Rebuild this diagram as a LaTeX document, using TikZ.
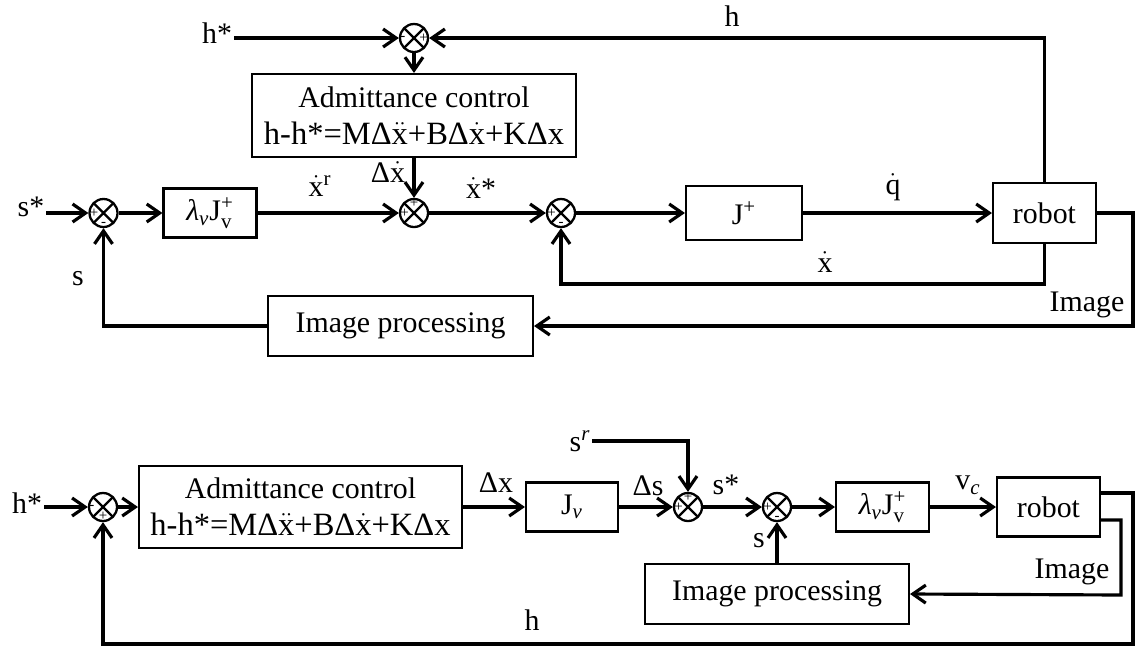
\documentclass[tikz,border=0pt]{standalone}
\usepackage{amsmath}
\usepackage{fontspec}
\setmainfont{Liberation Serif}
\usetikzlibrary{arrows.meta}
\newcommand{\dx}{$\dot{\text{x}}$}
\newcommand{\ddx}{$\ddot{\text{x}}$}
\newcommand{\lamJ}{{\itshape λ}$_{\text{\itshape v}}$J$^{\text{+}}_{\text{v}}$}
\newcommand{\admlaw}{{\fontsize{18.5}{21}\selectfont h-h*=MΔ\ddx+BΔ\dx+KΔx}}

\begin{document}
\begin{tikzpicture}[x=0.02cm,y=-0.02cm,font=\fontsize{17}{21}\selectfont,
  blk/.style={draw,line width=1.2pt,inner sep=1pt,align=center},
  sumjn/.style={circle,draw,line width=1.3pt,minimum size=0.56cm,inner sep=0pt,
    path picture={\draw[line width=1.3pt]
      (path picture bounding box.north west) -- (path picture bounding box.south east)
      (path picture bounding box.north east) -- (path picture bounding box.south west);}},
  sgn/.style={font=\fontsize{8.5}{8.5}\selectfont,inner sep=0.6pt},
  ln/.style={line width=1.8pt},
  arr/.style={ln,-{Straight Barb[length=2.6mm,width=3.6mm]}},
  lbl/.style={inner sep=1pt}]
\useasboundingbox (0,0) rectangle (1137,650);

% upper scheme
\node[sumjn] (sumT) at (414,38) {};
\node[sgn,right] at (sumT.west) {-};
\node[sgn,left] at (sumT.east) {+};
\node[lbl] (hstarT) at (217,33) {h*};
\node[blk,minimum width=6.48cm,minimum height=1.66cm] (admT) at (414,115.5)
  {Admittance control\\\admlaw};

\node[lbl] (sstarT) at (31,207) {s*};
\node[sumjn] (sum1) at (103.5,213) {};
\node[sgn,right] at (sum1.west) {+};
\node[sgn,above] at (sum1.south) {-};
\node[blk,minimum width=1.86cm,minimum height=0.98cm] (lamT) at (210,213) {\lamJ};
\node[sumjn] (sum2) at (414,213) {};
\node[sgn,right] at (sum2.west) {+};
\node[sgn,below] at (sum2.north) {+};
\node[sumjn] (sum3) at (561,213) {};
\node[sgn,right] at (sum3.west) {+};
\node[sgn,above] at (sum3.south) {-};
\node[blk,minimum width=2.32cm,minimum height=1.08cm] (jpT) at (744,213) {J$^{\text{+}}$};
\node[blk,minimum width=2.06cm,minimum height=1.2cm] (robotT) at (1044.5,213) {robot};
\node[blk,minimum width=5.3cm,minimum height=1.2cm] (ipT) at (400.5,326) {Image processing};

\node[lbl] (hT) at (732,16) {h};
\node[lbl] (xrT) at (320,186) {\dx$^{\text{r}}$};
\node[lbl] (dxT) at (388,172) {Δ\dx};
\node[lbl] (xsT) at (481,188) {\dx*};
\node[lbl] (qT) at (893,187) {$\dot{\text{q}}$};
\node[lbl] (xdT) at (825,262) {\dx};
\node[lbl] (sT) at (78,279) {s};
\node[lbl] (imgTl) at (1087,305) {Image};

\coordinate (xdotC) at (1044.5,284);
\coordinate (imgC) at (1133,326);

\draw[arr] (hstarT.east |- sumT) -- (sumT.west);
\draw[arr] (robotT.north) |- (sumT.east);
\draw[arr] (sumT.south) -- (admT.north);
\draw[arr] (sstarT.east |- sum1) -- (sum1.west);
\draw[arr] (sum1.east) -- (lamT.west);
\draw[arr] (lamT.east) -- (sum2.west);
\draw[arr] (admT.south) -- (sum2.north);
\draw[arr] (sum2.east) -- (sum3.west);
\draw[arr] (sum3.east) -- (jpT.west);
\draw[arr] (jpT.east) -- (robotT.west);
\draw[arr] (robotT.south) -- (xdotC) -| (sum3.south);
\draw[arr] (robotT.east) -| (imgC) -- (ipT.east);
\draw[arr] (ipT.west) -| (sum1.south);

% lower scheme
\node[lbl] (hstarB) at (27,503) {h*};
\node[sumjn] (sumB1) at (103,507) {};
\node[sgn,right] at (sumB1.west) {-};
\node[sgn,above] at (sumB1.south) {+};
\node[blk,minimum width=6.46cm,minimum height=1.64cm] (admB) at (300.5,507)
  {Admittance control\\\admlaw};
\node[blk,minimum width=1.84cm,minimum height=0.98cm] (jvB) at (572,507) {J$_{\text{\itshape v}}$};
\node[sumjn] (sumB2) at (688,507) {};
\node[sgn,right] at (sumB2.west) {+};
\node[sgn,below] at (sumB2.north) {+};
\node[sumjn] (sumB3) at (777,507) {};
\node[sgn,right] at (sumB3.west) {+};
\node[sgn,above] at (sumB3.south) {-};
\node[blk,minimum width=1.86cm,minimum height=0.98cm] (lamB) at (882.5,507) {\lamJ};
\node[blk,minimum width=2.06cm,minimum height=1.18cm] (robotB) at (1048.5,507) {robot};
\node[blk,minimum width=5.28cm,minimum height=1.2cm] (ipB) at (777,594) {Image processing};

\node[lbl] (srB) at (580,441) {s$^{\text{\itshape r}}$};
\node[lbl] (dxB) at (496,483) {Δx};
\node[lbl] (dsB) at (648,486) {Δs};
\node[lbl] (ssB) at (726,485) {s*};
\node[lbl] (vcB) at (968,485) {v$_{\text{\itshape c}}$};
\node[lbl] (sB) at (759,541) {s};
\node[lbl] (imgBl) at (1072,572) {Image};
\node[lbl] (hB) at (532,620) {h};

\coordinate (imgD) at (1121,595);
\coordinate (hD) at (1133,644);

\draw[arr] (hstarB.east |- sumB1) -- (sumB1.west);
\draw[arr] (sumB1.east) -- (admB.west);
\draw[arr] (admB.east) -- (jvB.west);
\draw[arr] (jvB.east) -- (sumB2.west);
\draw[arr] (srB.east) -| (sumB2.north);
\draw[arr] (sumB2.east) -- (sumB3.west);
\draw[arr] (sumB3.east) -- (lamB.west);
\draw[arr] (lamB.east) -- (robotB.west);
\draw[arr] ([yshift=-0.26cm]robotB.east) -| (imgD) -- (ipB.east);
\draw[arr] (ipB.north) -- (sumB3.south);
\draw[arr] ([yshift=0.28cm]robotB.east) -| (hD) -| (sumB1.south);

\end{tikzpicture}
\end{document}
